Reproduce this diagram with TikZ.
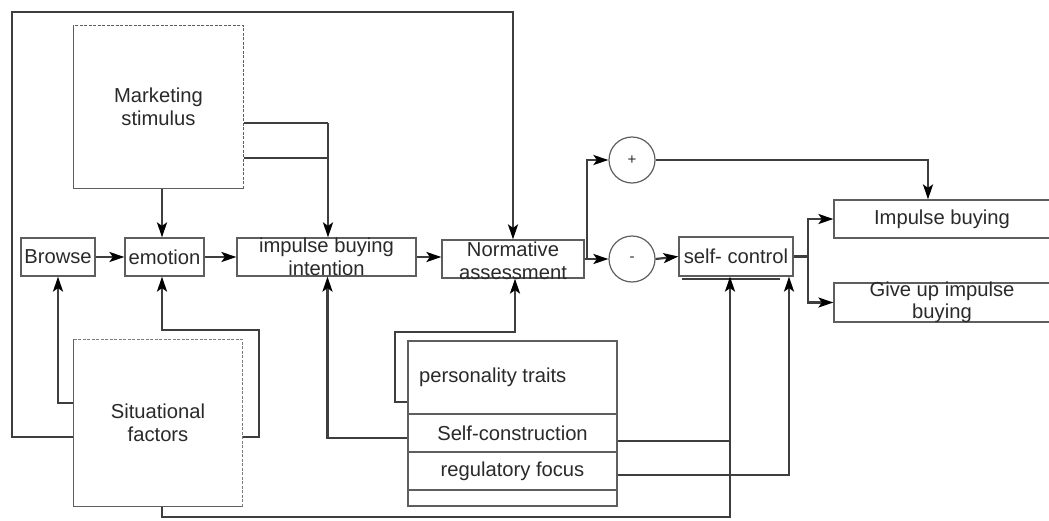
\documentclass[tikz,border=0pt]{standalone}
\usepackage{fontspec}
\setmainfont{Liberation Sans}
\usetikzlibrary{arrows.meta,calc}
\definecolor{ln}{HTML}{3E3E3E}
\definecolor{bx}{HTML}{5E5E5E}
\definecolor{tx}{HTML}{2A2A2A}
\begin{document}
\begin{tikzpicture}[x=1pt,y=-1pt,
  box/.style={draw=bx,line width=1.2pt,fill=white,inner sep=0pt,text=tx,font=\fontsize{20.2}{22.5}\selectfont},
  txt/.style={inner sep=0pt,text=tx,align=center,font=\fontsize{20.2}{22.5}\selectfont},
  circ/.style={draw=bx,line width=1.2pt,circle,minimum size=46pt,inner sep=0pt,text=tx,font=\fontsize{15}{16}\selectfont},
  conn/.style={draw=ln,line width=2.2pt},
  arr/.style={conn,-{Stealth[length=15pt,width=10pt,inset=3.5pt,color=black]}}]
\useasboundingbox (0,0) rectangle (1049,520);
\fill[white] (0,0) rectangle (1049,520);

% nodes
\node[box,draw=none,minimum width=169pt,minimum height=162pt,align=center] (ms) at (158.5,107) {Marketing\\stimulus};
\node[box,draw=none,minimum width=168pt,minimum height=166pt,align=center] (sf) at (158,423) {Situational\\factors};
\node[box,minimum width=74pt,minimum height=38pt] (br) at (58,257) {Browse};
\node[box,minimum width=79pt,minimum height=38pt] (em) at (164.5,257) {emotion};
\node[box,minimum width=179pt,minimum height=38pt] (ibi) at (326.5,257) {};
\node[txt] at (ibi.center) {impulse buying\\intention};
\node[box,minimum width=142pt,minimum height=38pt] (na) at (513,259) {};
\node[txt] at ([yshift=-2pt]na.center) {Normative\\assessment};
\node[circ] (plus) at (632,160) {+};
\node[circ] (minus) at (632,259) {-};
\draw[ln,line width=1.8pt] (682,279) -- (780,279);
\node[box,minimum width=114pt,minimum height=39pt] (scn) at (736,256.5) {self- control};
\node[box,minimum width=216pt,minimum height=38pt] (ib) at (942,219) {Impulse buying};
\node[box,minimum width=216pt,minimum height=39pt] (gu) at (942,302.5) {};
\node[txt] at (gu.center) {Give up impulse\\buying};
\node[box,minimum width=209pt,minimum height=73pt] (pt) at (512.5,377.5) {};
\node[txt,anchor=west] at (419,377) {personality traits};
\node[box,minimum width=209pt,minimum height=38pt] (scs) at (512.5,433) {Self-construction};
\node[box,minimum width=209pt,minimum height=38pt] (rf) at (512.5,471) {regulatory focus};
\node[box,minimum width=209pt,minimum height=16pt] (bl) at (512.5,498) {};

% box outlines with dashed top/right
\draw[bx,line width=1.2pt] (ms.north west) -- (ms.south west) -- (ms.south east);
\draw[bx,line width=1.3pt,dash pattern=on 3pt off 1.5pt] (ms.south east) -- (ms.north east) -- (ms.north west);
\draw[bx,line width=1.2pt] (sf.north west) -- (sf.south west) -- (sf.south east);
\draw[bx!80,line width=1.3pt,dash pattern=on 3pt off 1.5pt] (sf.south east) -- (sf.north east) -- (sf.north west);

% waypoints
\coordinate (k1) at (328,123);
\coordinate (k2) at (328,158);
\coordinate (nb) at (587,259);
\coordinate (sb) at (808,256.5);
\coordinate (lt) at (12,437);
\coordinate (lc) at (12,12);
\coordinate (rr) at (259,330);
\coordinate (bt) at (730,517);
\coordinate (jn) at (730,441);
\coordinate (pl) at (395,332);

% connectors
\draw[arr] (br.east) -- (em.west);
\draw[arr] (em.east) -- (ibi.west);
\draw[arr] (ibi.east) -- (ibi.east -| na.west);
\draw[arr] ([xshift=3.5pt]ms.south) -- ([xshift=3.5pt]ms.south |- em.north);
\draw[conn] (ms.east |- k1) -- (k1);
\draw[conn] (ms.east |- k2) -- (k2);
\draw[arr] (k1) -- (k1 |- ibi.north);
\draw[conn] (na.east) -- (nb);
\draw[arr] (nb) |- (plus.west);
\draw[arr] (nb) -- (minus.west);
\draw[arr] (plus.east) -| ([xshift=-14pt]ib.north);
\draw[arr] (minus.east) -- (scn.west);
\draw[conn] (scn.east) -- (sb);
\draw[arr] (sb) |- (ib.west);
\draw[arr] (sb) |- (gu.west);
\draw[arr] ([yshift=20pt]sf.west) -| (br.south);
\draw[arr] ([yshift=-14pt]sf.west) -- (lt) -- (lc) -| (na.north);
\draw[arr] ([yshift=-14pt]sf.east) -| (rr) -| ([xshift=-2.5pt]em.south);
\draw[arr] ([xshift=4pt]sf.south) |- (bt) -- ([xshift=-6pt]scn.south);
\draw[conn] ([yshift=-8pt]scs.east) -- (jn);
\draw[arr] ([yshift=-4pt]rf.east) -| ([xshift=53pt]scn.south);
\draw[arr] ([yshift=-5pt]scs.west) -| ([xshift=1pt]ibi.south);
\draw[arr] ([yshift=-24.5pt]pt.west) -| (pl) -| ([xshift=2pt]na.south);
\end{tikzpicture}
\end{document}
